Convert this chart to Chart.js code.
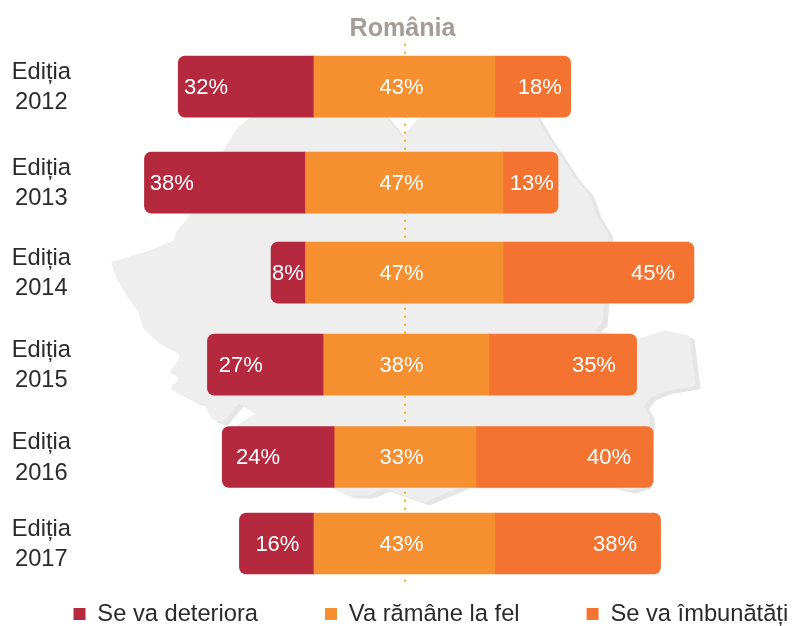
<!DOCTYPE html>
<html>
<head>
<meta charset="utf-8">
<style>html,body{margin:0;padding:0;background:#fff}canvas{display:block}</style>
<script src="https://cdn.jsdelivr.net/npm/chart.js@4"></script>
</head>
<body>
<canvas id="c" width="805" height="626"></canvas>
<script>
const titleText = "România";
const editions = ["2012", "2013", "2014", "2015", "2016", "2017"];
const editionWord = "Ediția";
const seriesNames = ["Se va deteriora", "Va rămâne la fel", "Se va îmbunătăți"];

// printed labels
const worseLabels = ["32%", "38%", "8%", "27%", "24%", "16%"];
const sameLabels = ["43%", "47%", "47%", "38%", "33%", "43%"];
const betterLabels = ["18%", "13%", "45%", "35%", "40%", "38%"];

// bar lengths as drawn in the picture
const worse = [32, 38, 8, 27.4, 26.5, 17.5];
const same = [43, 47, 47, 39.3, 33.6, 43];
const better = [18, 13, 45.2, 35, 42, 39.3];
const centreDrift = [0, 0, 0, 0.47, 0.24, 0];

// row slots on the vertical scale and label anchors on the horizontal scale
const rowSlots = [0, 1.05, 2.035, 3.042, 4.053, 5];
const worseLabelAt = [-46.9, -55, -27.5, -38.7, -34.6, -30];
const sameLabelAt = [-0.6, -0.6, -0.6, -0.6, -0.6, -0.6];
const betterLabelAt = [32.2, 30.3, 59, 45, 48.6, 50];

// decorative map silhouette behind the chart (page pixels)
const mapOutline = [[262,112],[380,112],[402,139],[426,112],[532,112],[545,135],[565,165],[575,180],[588,195],[595,215],[607,235],[603,300],[601,322],[592,332],[640,340],[665,332],[688,337],[694,385],[664,390],[650,396],[642,406],[648,416],[648,425],[646,484],[630,489],[610,484],[465,484],[445,492],[425,501],[400,492],[385,487],[368,494],[350,494],[330,485],[245,445],[240,425],[257,414],[248,407],[238,402],[222,421],[213,418],[205,403],[195,400],[172,388],[182,378],[172,372],[181,358],[180,352],[160,342],[145,328],[139,310],[128,295],[118,278],[113,263],[150,252],[175,242],[178,232],[192,215],[228,145],[240,127]];

const RED = "#B5293F", ORANGE = "#F68F30", DEEP = "#F47331";
const FONT = "'Liberation Sans', Arial, sans-serif";

const worseBars = worse.map((v, i) => ({ x: [centreDrift[i] - same[i] / 2 - v, centreDrift[i] - same[i] / 2], y: rowSlots[i] }));
const sameBars = same.map((v, i) => ({ x: [centreDrift[i] - v / 2, centreDrift[i] + v / 2], y: rowSlots[i] }));
const betterBars = better.map((v, i) => ({ x: [centreDrift[i] + same[i] / 2, centreDrift[i] + same[i] / 2 + v], y: rowSlots[i] }));

function tracePath(ctx, dx, dy) {
  ctx.beginPath();
  mapOutline.forEach((p, i) => i ? ctx.lineTo(p[0] + dx, p[1] + dy) : ctx.moveTo(p[0] + dx, p[1] + dy));
  ctx.closePath();
}

const backdrop = {
  id: "backdrop",
  afterLayout(chart) {
    const lg = chart.legend;
    lg.left = 73.5 - 67;
    lg.right = 2000;
    lg.top = 614 - 11.85 - 67;
    lg.bottom = 900;
  },
  beforeDatasetsDraw(chart) {
    const ctx = chart.ctx, x = chart.scales.x, y = chart.scales.y;
    ctx.save();
    ctx.lineJoin = "round";
    ctx.lineWidth = 3;
    ctx.fillStyle = ctx.strokeStyle = "#E5E5E5";
    tracePath(ctx, 5, 3); ctx.fill(); ctx.stroke();
    ctx.fillStyle = ctx.strokeStyle = "#EEEEEE";
    tracePath(ctx, 0, 0); ctx.fill(); ctx.stroke();
    const px = x.getPixelForValue(0) + 1;
    ctx.strokeStyle = "#FDB827";
    ctx.lineWidth = 2;
    ctx.setLineDash([2.5, 5.5]);
    ctx.beginPath();
    ctx.moveTo(px, y.getPixelForValue(-0.473));
    ctx.lineTo(px, y.getPixelForValue(5.46));
    ctx.stroke();
    ctx.restore();
  },
  afterDatasetsDraw(chart) {
    const ctx = chart.ctx, x = chart.scales.x, y = chart.scales.y;
    ctx.save();
    ctx.fillStyle = "#FFFFFF";
    ctx.font = "22px " + FONT;
    ctx.textAlign = "center";
    ctx.textBaseline = "middle";
    editions.forEach((e, i) => {
      const py = y.getPixelForValue(rowSlots[i]) + 1;
      ctx.fillText(worseLabels[i], x.getPixelForValue(worseLabelAt[i]), py);
      ctx.fillText(sameLabels[i], x.getPixelForValue(sameLabelAt[i]), py);
      ctx.fillText(betterLabels[i], x.getPixelForValue(betterLabelAt[i]), py);
    });
    ctx.restore();
  }
};

new Chart(document.getElementById("c"), {
  type: "bar",
  plugins: [backdrop],
  data: {
    labels: editions,
    datasets: [
      { label: seriesNames[0], data: worseBars, backgroundColor: RED, borderRadius: { topLeft: 7, bottomLeft: 7 } },
      { label: seriesNames[1], data: sameBars, backgroundColor: ORANGE, borderRadius: 0 },
      { label: seriesNames[2], data: betterBars, backgroundColor: DEEP, borderRadius: { topRight: 7, bottomRight: 7 } }
    ]
  },
  options: {
    indexAxis: "y",
    responsive: false,
    animation: false,
    layout: { padding: 0 },
    datasets: { bar: { grouped: false, barThickness: 61, borderSkipped: false } },
    scales: {
      x: { type: "linear", min: -76.3, max: 95.02, display: false, grid: { display: false } },
      y: {
        type: "linear", reverse: true, offset: false, min: -0.465, max: 5.618,
        grid: { display: false, drawTicks: false, offset: false }, border: { display: false },
        afterBuildTicks(s) { s.ticks = rowSlots.map(v => ({ value: v })); },
        beforeFit(s) { s._calculatePadding = () => {}; },
        afterFit(s) { s.width = 82; },
        ticks: {
          autoSkip: false, crossAlign: "center", padding: 11, labelOffset: 1, color: "#2B2B2B",
          font: { family: FONT, size: 23.7, lineHeight: 1.27 },
          callback(v, i) { return [editionWord, editions[i]]; }
        }
      }
    },
    plugins: {
      tooltip: { enabled: false },
      title: {
        display: true, text: titleText, color: "#A69C97", align: "center",
        font: { family: FONT, size: 25.1, weight: "bold", lineHeight: 1.2 },
        padding: { top: 14, bottom: 0 }
      },
      legend: {
        display: true, position: "bottom", align: "start", maxHeight: 26,
        labels: { boxWidth: 12, boxHeight: 12, padding: 67, color: "#2B2B2B", font: { family: FONT, size: 23.7 } }
      }
    }
  }
});
</script>
</body>
</html>
